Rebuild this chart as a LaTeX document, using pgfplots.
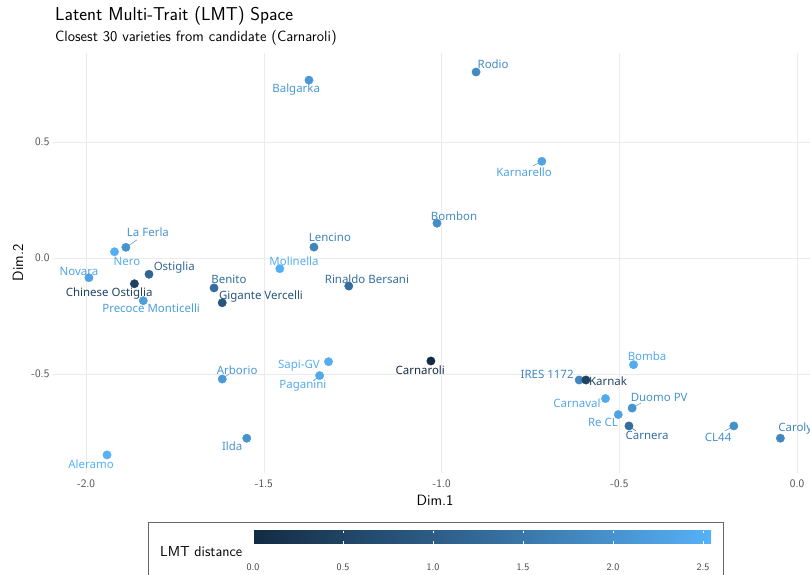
\documentclass[border=0pt]{standalone}
\usepackage{pgfplots}
\pgfplotsset{compat=1.18}
\usepackage{pgfplotstable}
\usepackage{fontspec}
\newfontfamily\lblfont{Noto Sans}

\pgfplotstableread[col sep=comma]{
name,x,y,d,lx,ly
Rodio,-0.903,0.802,1.85,-0.855,0.836
Balgarka,-1.373,0.767,2.10,-1.409,0.728
Karnarello,-0.718,0.417,2.30,-0.768,0.371
Bombon,-1.013,0.150,1.90,-0.965,0.181
Lencino,-1.359,0.047,1.75,-1.314,0.091
La Ferla,-1.888,0.046,2.00,-1.826,0.112
Nero,-1.920,0.027,2.50,-1.885,-0.017
Novara,-1.992,-0.085,2.30,-2.020,-0.056
Ostiglia,-1.823,-0.070,1.20,-1.752,-0.039
Chinese Ostiglia,-1.864,-0.111,0.45,-1.935,-0.151
Precoce Monticelli,-1.839,-0.184,2.20,-1.817,-0.216
Benito,-1.640,-0.129,1.35,-1.598,-0.091
Gigante Vercelli,-1.617,-0.193,0.85,-1.508,-0.164
Molinella,-1.455,-0.046,2.50,-1.415,-0.013
Rinaldo Bersani,-1.261,-0.121,1.35,-1.210,-0.091
Sapi-GV,-1.318,-0.447,2.50,-1.401,-0.466
Paganini,-1.343,-0.507,2.40,-1.390,-0.552
Carnaroli,-1.030,-0.444,0.00,-1.060,-0.483
Arborio,-1.617,-0.522,2.10,-1.575,-0.483
Ilda,-1.548,-0.777,2.00,-1.589,-0.810
Aleramo,-1.941,-0.849,2.545,-1.986,-0.888
Bomba,-0.460,-0.460,2.45,-0.422,-0.422
IRES 1172,-0.613,-0.526,1.80,-0.703,-0.504
Karnak,-0.594,-0.526,0.50,-0.532,-0.530
Carnaval,-0.539,-0.606,2.40,-0.619,-0.625
Duomo PV,-0.464,-0.647,2.00,-0.388,-0.603
Re CL,-0.503,-0.675,2.30,-0.546,-0.711
Carnera,-0.473,-0.724,1.35,-0.422,-0.767
CL44,-0.178,-0.724,1.95,-0.222,-0.772
Carolyn,-0.047,-0.777,1.80,0.005,-0.737
}\pts

\begin{document}
\begin{tikzpicture}
\begin{axis}[
  at={(53bp,102bp)}, anchor=south west,
  scale only axis, width=764bp, height=420bp,
  xmin=-2.093, xmax=0.056, ymin=-0.927, ymax=0.884,
  clip=false,
  axis line style={draw=none},
  major tick length=0pt,
  tick style={draw=none},
  grid=major,
  major grid style={draw=black!8, line width=0.6bp},
  xtick={-2,-1.5,-1,-0.5,0},
  ytick={-0.5,0,0.5},
  ticklabel style={font=\sffamily\fontsize{11.5}{13}\selectfont, text=black!70},
  xticklabel style={yshift=-3bp},
  /pgf/number format/fixed,
  /pgf/number format/fixed zerofill,
  /pgf/number format/precision=1,
  /pgf/number format/assume math mode=true,
  xlabel={Dim.1},
  ylabel={Dim.2},
  label style={font=\sffamily\fontsize{15}{17}\selectfont, text=black},
  x label style={at={(axis description cs:0.5,-0.064)}, anchor=center},
  y label style={at={(axis description cs:-0.0458,0.5)}, anchor=center, rotate=0},
  colormap={lmt}{rgb255=(19,43,67) rgb255=(51,106,152) rgb255=(86,177,247)},
  point meta min=0, point meta max=2.545,
  colorbar horizontal,
  colorbar style={
    at={(parent axis.south west)}, anchor=north west,
    xshift=200bp, yshift=-49bp,
    scale only axis, width=458bp, height=13bp,
    xtick={0,0.5,1,1.5,2,2.5},
    ytick=\empty,
    axis line style={draw=none},
    major tick length=2.6bp, tick align=inside, xtick pos=both,
    xtick style={draw=white, line width=0.6bp},
    xticklabel pos=lower,
    /pgf/number format/fixed,
    /pgf/number format/fixed zerofill,
    /pgf/number format/precision=1,
    /pgf/number format/assume math mode=true,
    xticklabel style={font=\sffamily\fontsize{10}{12}\selectfont, text=black!75, yshift=-17bp},
    grid=none,
  },
]
% leader segments
\addplot[no marks, color of colormap={786 of lmt}, line width=0.5bp] coordinates {(-1.888,0.046) (-1.857,0.078)};
\addplot[no marks, color of colormap={825 of lmt}, line width=0.5bp] coordinates {(-1.617,-0.522) (-1.598,-0.500)};
\addplot[no marks, color of colormap={943 of lmt}, line width=0.5bp] coordinates {(-1.343,-0.507) (-1.361,-0.530)};
\addplot[no marks, color of colormap={904 of lmt}, line width=0.5bp] coordinates {(-0.718,0.417) (-0.743,0.397)};
\addplot[no marks, color of colormap={786 of lmt}, line width=0.5bp] coordinates {(-0.464,-0.647) (-0.439,-0.625)};
\addplot[no marks, color of colormap={530 of lmt}, line width=0.5bp] coordinates {(-0.473,-0.724) (-0.453,-0.746)};
\addplot[no marks, color of colormap={766 of lmt}, line width=0.5bp] coordinates {(-0.178,-0.724) (-0.203,-0.746)};
% points
\addplot[scatter, only marks, mark=*, mark size=4.2pt,
  point meta=\thisrow{d},
  scatter/use mapped color={draw=mapped color, fill=mapped color}]
  table[x=x, y=y] {\pts};
% labels
\addplot[only marks, mark=none,
  point meta=explicit symbolic,
  visualization depends on={1000*\thisrow{d}/2.545 \as \dv},
  nodes near coords,
  every node near coord/.append style={anchor=center, inner sep=0pt,
    color of colormap={\dv of lmt},
    font=\lblfont\fontsize{11.5}{13}\selectfont}]
  table[x=lx, y=ly, meta=name] {\pts};
\end{axis}
\node[anchor=base west, inner sep=0pt, font=\sffamily\fontsize{18.7}{21}\selectfont] at (55bp,554bp) {Latent Multi-Trait (LMT) Space};
\node[anchor=base west, inner sep=0pt, font=\sffamily\fontsize{14.9}{17}\selectfont] at (55bp,533bp) {Closest 30 varieties from candidate (Carnaroli)};
\node[anchor=base west, inner sep=0pt, font=\sffamily\fontsize{14.5}{16}\selectfont] at (160bp,19bp) {LMT distance};
\draw[black!60, line width=0.6bp] (148bp,53bp) rectangle (723bp,-20bp);
\pgfresetboundingbox
\path[use as bounding box] (0,0) rectangle (810bp,575bp);
\end{tikzpicture}
\end{document}
